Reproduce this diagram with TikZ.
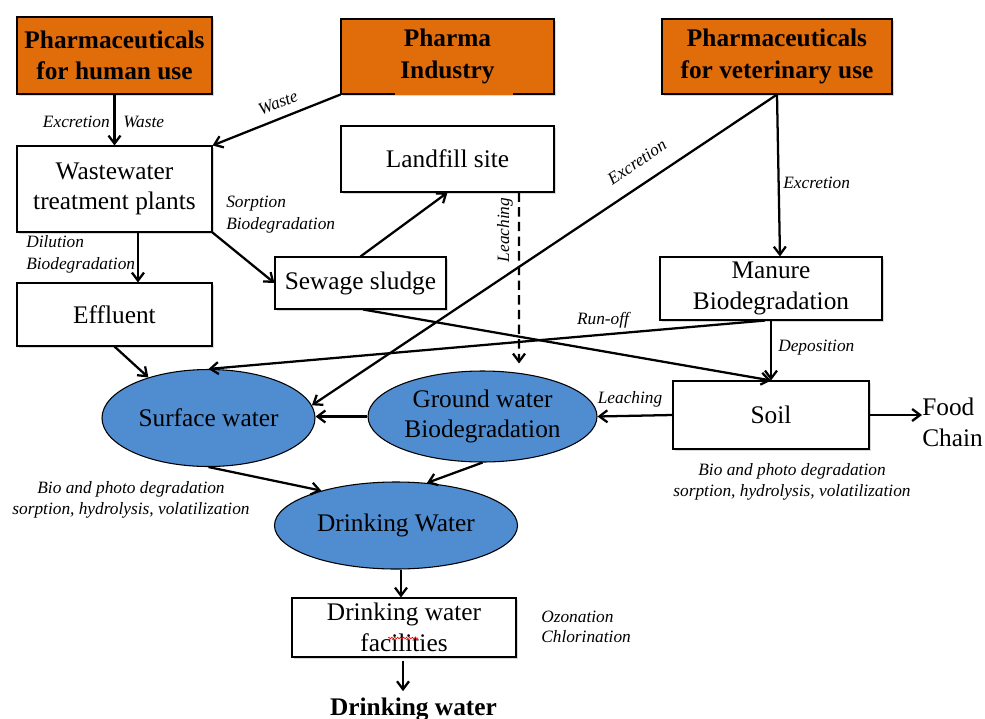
\documentclass[tikz,border=0pt]{standalone}
\usepackage{fontspec}
\setmainfont{Liberation Serif}
\usetikzlibrary{arrows.meta,shapes.geometric,calc,shadows,decorations.pathmorphing}
\definecolor{pharmaorange}{RGB}{224,108,10}
\definecolor{waterblue}{RGB}{80,140,208}
\begin{document}
\begin{tikzpicture}[x=0.75pt,y=-0.75pt,
  box/.style={draw=black, line width=0.8pt, fill=white, inner sep=0pt, align=center,
    font=\fontsize{19}{23}\selectfont,
    drop shadow={shadow xshift=1.2pt, shadow yshift=-1.2pt, opacity=0.3}},
  src/.style={box, fill=pharmaorange, font=\fontsize{19}{23.5}\selectfont\bfseries},
  water/.style={ellipse, draw=black, line width=0.8pt, fill=waterblue, inner sep=0pt,
    align=center, font=\fontsize{19}{23}\selectfont},
  lbl/.style={font=\fontsize{13}{16.5}\selectfont\itshape, inner sep=0pt, align=left},
  arr/.style={-{Straight Barb[length=6pt,width=9pt]}, line width=1.7pt},
  plain/.style={font=\fontsize{19}{23.5}\selectfont, inner sep=0pt, align=left}
]
\useasboundingbox (0,0) rectangle (985,718);
\fill[white] (0,0) rectangle (985,718);

% sources
\node[src, minimum width=146.25pt, minimum height=57.75pt] (hum) at (114.5,55.5) {Pharmaceuticals\\for human use};
\node[src, minimum width=159.75pt, minimum height=56.25pt] (ind) at (447.5,56.5) {Pharma\\Industry};
\node[src, minimum width=172.5pt, minimum height=56.25pt] (vet) at (777,56.5) {Pharmaceuticals\\for veterinary use};
\draw[pharmaorange, line width=1.2pt] (395,94) -- (513,94);

% boxes
\node[box, minimum width=146.25pt, minimum height=64.5pt] (wwtp) at (114.5,189) {Wastewater\\treatment plants};
\node[box, minimum width=146.25pt, minimum height=47.25pt] (eff) at (114.5,314.5) {Effluent};
\node[box, minimum width=159.75pt, minimum height=49.5pt] (land) at (447.5,159) {Landfill site};
\node[box, minimum width=128.25pt, minimum height=39pt] (sew) at (360.5,283) {Sewage sludge};
\node[box, minimum width=166.5pt, minimum height=47.25pt] (man) at (771,288.5) {Manure\\Biodegradation};
\node[box, minimum width=147pt, minimum height=51pt] (soil) at (771,415) {Soil};
\node[box, minimum width=168pt, minimum height=44.25pt] (fac) at (404,627.5) {Drinking water\\facilities};
\draw[red, line width=0.5pt, decorate, decoration={snake, segment length=2.2pt, amplitude=0.6pt}] (388,638) -- (418,638);

% water bodies
\node[water, minimum width=159.75pt, minimum height=72.75pt] (sw) at (208.5,418) {Surface water};
\node[water, minimum width=171.75pt, minimum height=68.25pt] (gw) at (482.5,416.5) {Ground water\\Biodegradation};
\node[water, minimum width=182.25pt, minimum height=65.25pt] (dw) at (396,525.5) {Drinking Water};

% free texts
\node[plain, anchor=west] (food) at (922,422) {Food\\Chain};
\node[font=\fontsize{19}{23}\selectfont\bfseries, inner sep=0pt, anchor=base] (out) at (413.5,715) {Drinking water};

% labels
\node[lbl, anchor=east] (l1) at (110,122) {Excretion};
\node[lbl, anchor=west] (l2) at (123,122) {Waste};
\node[lbl, rotate=22] (l3) at (278,103) {Waste};
\node[lbl, anchor=west] (l4) at (226,215) {Sorption\\Biodegradation};
\node[lbl, anchor=west] (l5) at (26,254) {Dilution\\Biodegradation};
\node[lbl, rotate=90] (l6) at (505,230) {Leaching};
\node[lbl, rotate=33.8] (l7) at (637,162) {Excretion};
\node[lbl, anchor=west] (l8) at (783,183) {Excretion};
\node[lbl] (l9) at (603,320) {Run-off};
\node[lbl, anchor=west] (l10) at (778,348) {Deposition};
\node[lbl] (l11) at (630,399) {Leaching};
\node[lbl, align=center, font=\fontsize{13}{16}\selectfont\itshape] (l12) at (131,500) {Bio and photo degradation\\sorption, hydrolysis, volatilization};
\node[lbl, align=center, font=\fontsize{13}{16}\selectfont\itshape] (l13) at (792,482) {Bio and photo degradation\\sorption, hydrolysis, volatilization};
\node[lbl, anchor=west, font=\fontsize{13}{15}\selectfont\itshape] (l14) at (541,627) {Ozonation\\Chlorination};

% connectors
\draw[arr] (hum.south) -- (wwtp.north);
\draw[arr] (ind.south west) -- (wwtp.north east);
\draw[arr] ([xshift=17.6pt]wwtp.south) -- ([xshift=17.6pt]eff.north);
\draw[arr] (wwtp.south east) -- (sew.west);
\draw[arr] (sew.north) -- (land.south);
\draw[arr, dashed, dash pattern=on 7pt off 4pt] ([xshift=53.6pt]land.south) -- ([xshift=27.4pt, yshift=5.25pt]gw.north);
\draw[arr] (vet.south) -- (sw.7);
\draw[arr] (vet.south) -- ([xshift=6.75pt]man.north);
\draw[arr] ([xshift=-4.5pt]man.south) -- (sw.north);
\draw[arr] (man.south) -- (soil.north);
\draw[arr] ([xshift=2pt]sew.south) -- (soil.north);
\draw[arr] (soil.west) -- (gw.east);
\draw[arr] (soil.east) -- (soil.east -| food.west);
\draw[arr] (gw.west) -- (gw.west -| sw.east);
\draw[arr] (eff.south) -- (sw.146);
\draw[arr] (sw.south) -- (dw.155);
\draw[arr] (gw.south) -- (dw.54);
\draw[arr] ([xshift=3.75pt]dw.south) -- ([xshift=3.75pt]dw.south |- fac.north);
\draw[arr, shorten >=4.5pt] ([xshift=-0.75pt, yshift=-2.25pt]fac.south) -- ([xshift=-0.75pt]fac.south |- out.north);
\end{tikzpicture}
\end{document}
